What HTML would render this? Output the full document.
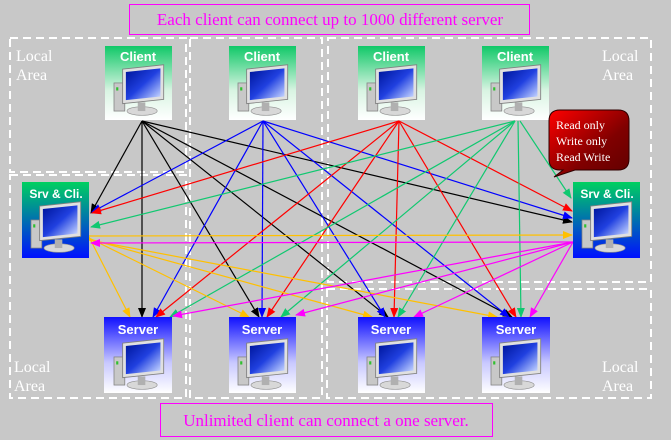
<!DOCTYPE html>
<html><head><meta charset="utf-8"><style>
html,body{margin:0;padding:0;background:#c8c8c8;}
body{width:671px;height:440px;overflow:hidden;position:relative;font-family:"Liberation Sans",sans-serif;}
</style></head><body>
<svg width="671" height="440" xmlns="http://www.w3.org/2000/svg" style="position:absolute;left:0;top:0">
<defs>
<linearGradient id="gc" x1="0" y1="0" x2="0" y2="1"><stop offset="0" stop-color="#10c868"/><stop offset="0.6" stop-color="#d8f4e2"/><stop offset="1" stop-color="#ffffff"/></linearGradient>
<linearGradient id="gs" x1="0" y1="0" x2="0" y2="1"><stop offset="0" stop-color="#1010ff"/><stop offset="0.6" stop-color="#c8c8ff"/><stop offset="1" stop-color="#ffffff"/></linearGradient>
<linearGradient id="gb" x1="0" y1="0" x2="0" y2="1"><stop offset="0" stop-color="#00d060"/><stop offset="1" stop-color="#0010ff"/></linearGradient>
<linearGradient id="gr" x1="0" y1="0" x2="1" y2="1"><stop offset="0" stop-color="#ff0000"/><stop offset="0.6" stop-color="#800000"/><stop offset="1" stop-color="#600000"/></linearGradient>
<linearGradient id="scr" x1="0" y1="0" x2="1" y2="1"><stop offset="0" stop-color="#0018a0"/><stop offset="0.5" stop-color="#2040e0"/><stop offset="1" stop-color="#c0d0ff"/></linearGradient>
<g id="pc">
<rect x="0" y="12" width="10" height="26" fill="#c8c8c8" stroke="#808080" stroke-width="0.7"/>
<rect x="2" y="16" width="2" height="3" fill="#30c030"/>
<ellipse cx="26" cy="38" rx="14" ry="4" fill="#d8d8d8" stroke="#909090" stroke-width="0.6"/>
<rect x="22" y="30" width="7" height="8" fill="#b0b0b0"/>
<rect x="8" y="0" width="38" height="32" fill="#e0e0e0" stroke="#808080" stroke-width="0.8" transform="skewY(-6)"/>
<rect x="11" y="3" width="32" height="26" fill="url(#scr)" transform="skewY(-6)"/>
</g>
<marker id="mk" markerWidth="10" markerHeight="8" refX="9" refY="4" orient="auto" markerUnits="userSpaceOnUse"><path d="M0,0 L10,4 L0,8z" fill="#000"/></marker>
<marker id="mb" markerWidth="10" markerHeight="8" refX="9" refY="4" orient="auto" markerUnits="userSpaceOnUse"><path d="M0,0 L10,4 L0,8z" fill="#0000ff"/></marker>
<marker id="mr" markerWidth="10" markerHeight="8" refX="9" refY="4" orient="auto" markerUnits="userSpaceOnUse"><path d="M0,0 L10,4 L0,8z" fill="#ff0000"/></marker>
<marker id="mg" markerWidth="10" markerHeight="8" refX="9" refY="4" orient="auto" markerUnits="userSpaceOnUse"><path d="M0,0 L10,4 L0,8z" fill="#10c870"/></marker>
<marker id="my" markerWidth="10" markerHeight="8" refX="9" refY="4" orient="auto" markerUnits="userSpaceOnUse"><path d="M0,0 L10,4 L0,8z" fill="#ffc000"/></marker>
<marker id="mm" markerWidth="10" markerHeight="8" refX="9" refY="4" orient="auto" markerUnits="userSpaceOnUse"><path d="M0,0 L10,4 L0,8z" fill="#ff00ff"/></marker>
</defs>

<g fill="none" stroke="#fff" stroke-width="2" stroke-dasharray="8,5">
<rect x="10" y="38" width="176" height="134"/>
<rect x="10" y="175" width="176" height="223"/>
<rect x="190" y="38" width="132" height="360"/>
<rect x="328" y="38" width="323" height="244"/>
<rect x="327" y="289" width="324" height="109"/>
</g>
<g font-family="Liberation Serif,serif" font-size="16" fill="#fff">
<text x="16" y="61">Local</text><text x="16" y="80">Area</text>
<text x="602" y="61">Local</text><text x="602" y="80">Area</text>
<text x="14" y="372">Local</text><text x="14" y="391">Area</text>
<text x="602" y="372">Local</text><text x="602" y="391">Area</text>
</g>

<rect x="129.5" y="4.5" width="400" height="30" fill="none" stroke="#ff00ff"/>
<text x="330" y="25" text-anchor="middle" font-family="Liberation Serif,serif" font-size="17" fill="#ff00ff">Each client can connect up to 1000 different server</text>
<rect x="160.5" y="403.5" width="332" height="33" fill="none" stroke="#ff00ff"/>
<text x="326" y="426" text-anchor="middle" font-family="Liberation Serif,serif" font-size="17" fill="#ff00ff">Unlimited client can connect a one server.</text>

<g stroke-width="1.2" fill="none">
<g stroke="#000" marker-end="url(#mk)">
<line x1="142" y1="121" x2="91" y2="213"/>
<line x1="142" y1="121" x2="142" y2="317"/>
<line x1="142" y1="121" x2="259" y2="317"/>
<line x1="142" y1="121" x2="388" y2="317"/>
<line x1="142" y1="121" x2="512" y2="317"/>
<line x1="142" y1="121" x2="572" y2="222"/>
</g>
<g stroke="#0000ff" marker-end="url(#mb)">
<line x1="263" y1="121" x2="92" y2="212"/>
<line x1="263" y1="121" x2="153" y2="317"/>
<line x1="263" y1="121" x2="262" y2="317"/>
<line x1="263" y1="121" x2="385" y2="317"/>
<line x1="263" y1="121" x2="509" y2="317"/>
<line x1="263" y1="121" x2="572" y2="218"/>
</g>
<g stroke="#ff0000" marker-end="url(#mr)">
<line x1="399" y1="121" x2="92" y2="213"/>
<line x1="399" y1="121" x2="156" y2="317"/>
<line x1="399" y1="121" x2="267" y2="317"/>
<line x1="399" y1="121" x2="394" y2="317"/>
<line x1="399" y1="121" x2="516" y2="317"/>
<line x1="399" y1="121" x2="572" y2="211"/>
</g>
<g stroke="#10c870" marker-end="url(#mg)">
<line x1="515" y1="121" x2="91" y2="227"/>
<line x1="515" y1="121" x2="170" y2="317"/>
<line x1="515" y1="121" x2="281" y2="317"/>
<line x1="515" y1="121" x2="398" y2="317"/>
<line x1="518" y1="121" x2="521" y2="317"/>
<line x1="520" y1="121" x2="571" y2="198"/>
</g>
<g stroke="#ffc000" marker-end="url(#my)">
<line x1="89" y1="236" x2="572" y2="235"/>
<line x1="89" y1="237" x2="130" y2="317"/>
<line x1="89" y1="238" x2="249" y2="317"/>
<line x1="89" y1="239" x2="372" y2="317"/>
<line x1="89" y1="240" x2="497" y2="317"/>
</g>
<g stroke="#ff00ff" marker-end="url(#mm)">
<line x1="573" y1="242" x2="91" y2="243"/>
<line x1="573" y1="242" x2="173" y2="316"/>
<line x1="573" y1="242" x2="296" y2="315"/>
<line x1="573" y1="242" x2="414" y2="317"/>
<line x1="573" y1="242" x2="530" y2="317"/>
</g>
</g>

<g font-family="Liberation Sans,sans-serif" font-weight="bold" font-size="13" fill="#fff" text-anchor="middle">
<rect x="105" y="46" width="67" height="74" fill="url(#gc)"/><text x="138" y="61">Client</text><use href="#pc" transform="translate(114,70) scale(1.08)"/>
<rect x="229" y="46" width="67" height="74" fill="url(#gc)"/><text x="262" y="61">Client</text><use href="#pc" transform="translate(238,70) scale(1.08)"/>
<rect x="358" y="46" width="67" height="74" fill="url(#gc)"/><text x="391" y="61">Client</text><use href="#pc" transform="translate(367,70) scale(1.08)"/>
<rect x="482" y="46" width="67" height="74" fill="url(#gc)"/><text x="515" y="61">Client</text><use href="#pc" transform="translate(491,70) scale(1.08)"/>

<rect x="22" y="182" width="67" height="76" fill="url(#gb)"/><text x="56" y="198" font-size="12">Srv &amp; Cli.</text><use href="#pc" transform="translate(31,207) scale(1.08)"/>
<rect x="573" y="182" width="67" height="76" fill="url(#gb)"/><text x="607" y="198" font-size="12">Srv &amp; Cli.</text><use href="#pc" transform="translate(582,207) scale(1.08)"/>

<rect x="104" y="317" width="68" height="76" fill="url(#gs)"/><text x="138" y="334">Server</text><use href="#pc" transform="translate(114,344) scale(1.08)"/>
<rect x="229" y="317" width="67" height="76" fill="url(#gs)"/><text x="262" y="334">Server</text><use href="#pc" transform="translate(238,344) scale(1.08)"/>
<rect x="358" y="317" width="67" height="76" fill="url(#gs)"/><text x="391" y="334">Server</text><use href="#pc" transform="translate(367,344) scale(1.08)"/>
<rect x="482" y="317" width="68" height="76" fill="url(#gs)"/><text x="516" y="334">Server</text><use href="#pc" transform="translate(491,344) scale(1.08)"/>
</g>

<path d="M560,110 H618 Q629,110 629,121 V159 Q629,170 618,170 H575 L554,177 L563,170 H560 Q549,170 549,159 V121 Q549,110 560,110 Z" fill="url(#gr)" stroke="#300000" stroke-width="1"/>
<g font-family="Liberation Serif,serif" font-size="12" fill="#fff">
<text x="556" y="129">Read only</text>
<text x="556" y="145">Write only</text>
<text x="556" y="161">Read Write</text>
</g>
</svg>
</body></html>
